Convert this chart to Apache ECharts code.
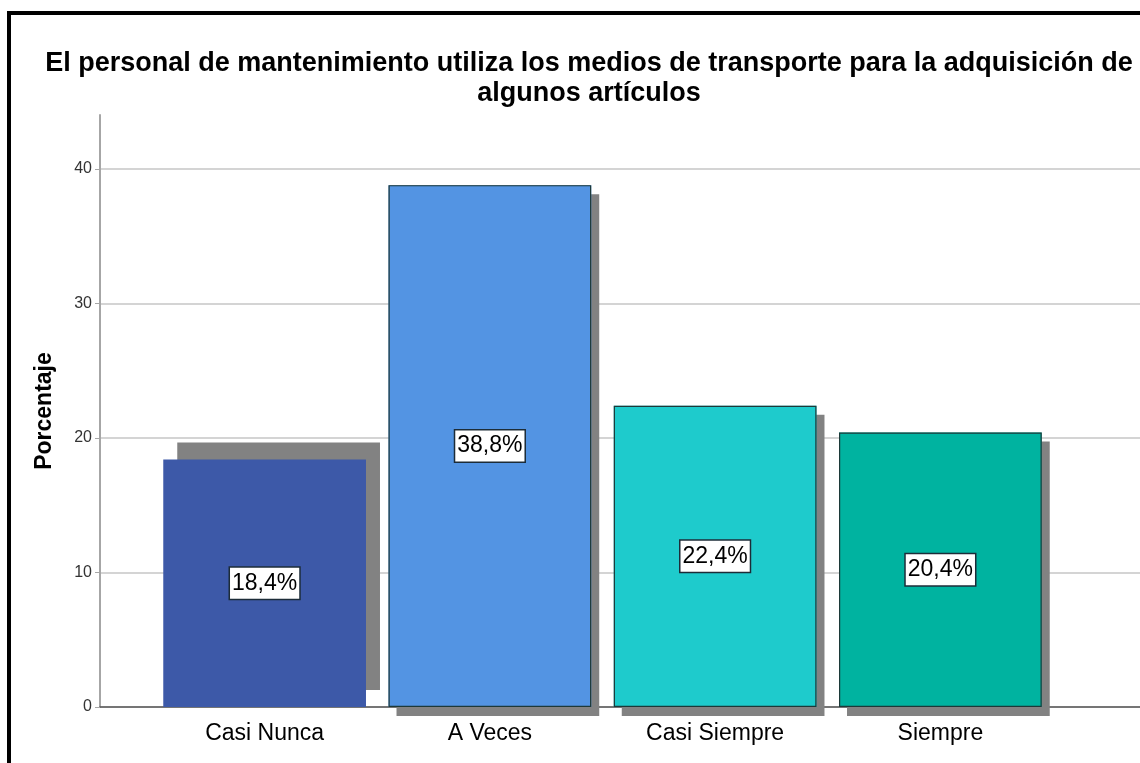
<!DOCTYPE html>
<html>
<head>
<meta charset="utf-8">
<script src="https://cdn.jsdelivr.net/npm/echarts@6/dist/echarts.min.js"></script>
<style>
  html, body { margin: 0; background: #fff; }
  #chart { width: 1140px; height: 763px; }
</style>
</head>
<body>
<div id="chart"></div>
<script>
const categories = ["Casi Nunca", "A Veces", "Casi Siempre", "Siempre"];
const percentages = [18.4, 38.8, 22.4, 20.4];
const barColors = ["#3d59a8", "#5394e3", "#1ecbcc", "#00b3a0"];
const titleText = "El personal de mantenimiento utiliza los medios de transporte para la adquisición de\nalgunos artículos";

const sans = "'Liberation Sans', Arial, sans-serif";

const chart = echarts.init(document.getElementById("chart"));

// fill + drop shadow; the first bar's shadow falls up-right, the others down-right
const barData = percentages.map((v, i) => ({
  value: v,
  itemStyle: {
    color: barColors[i],
    shadowColor: "#828282",
    shadowBlur: 0,
    shadowOffsetX: i === 0 ? 14 : 8,
    shadowOffsetY: i === 0 ? -17 : 9,
  },
}));

// outline drawn on top without shadow (first bar has none)
const outlineData = percentages.map((v, i) => ({
  value: v,
  itemStyle: {
    color: "transparent",
    borderColor: i === 0 ? "transparent" : "#1d3838",
    borderWidth: 1.2,
  },
}));

const option = {
  backgroundColor: "#fff",
  animation: false,
  title: {
    text: titleText,
    left: 584,
    top: 44,
    textAlign: "center",
    textStyle: {
      fontFamily: sans,
      fontSize: 27,
      fontWeight: "bold",
      color: "#000",
      lineHeight: 30,
    },
  },
  graphic: [
    { type: "rect", shape: { x: 7, y: 11, width: 1133, height: 4 }, style: { fill: "#000" } },
    { type: "rect", shape: { x: 7, y: 11, width: 4, height: 752 }, style: { fill: "#000" } },
  ],
  grid: [
    { left: 100, right: 0, top: 115, bottom: 56 },
    { left: 100, right: 0, top: 169, bottom: 56 },
    { left: 152, right: 87, top: 169, bottom: 56 },
  ],
  xAxis: [
    { gridIndex: 0, type: "category", data: [""], show: false },
    {
      gridIndex: 1,
      type: "category",
      data: [""],
      axisLine: { lineStyle: { color: "#555", width: 1.5 } },
      axisTick: { show: false },
      axisLabel: { show: false },
    },
    {
      gridIndex: 2,
      type: "category",
      data: categories,
      axisLine: { show: false },
      axisTick: { show: false },
      axisLabel: {
        margin: 15,
        fontFamily: sans,
        fontSize: 23,
        color: "#000",
      },
    },
  ],
  yAxis: [
    {
      gridIndex: 0,
      type: "value",
      min: 0,
      max: 44,
      name: "Porcentaje",
      nameLocation: "middle",
      nameGap: 44,
      nameTextStyle: { fontFamily: sans, fontSize: 23, fontWeight: "bold", color: "#000" },
      axisLine: { show: true, lineStyle: { color: "#a6a6a6", width: 2 } },
      axisTick: { show: false },
      axisLabel: { show: false },
      splitLine: { show: false },
    },
    {
      gridIndex: 1,
      type: "value",
      min: 0,
      max: 40,
      interval: 10,
      axisLine: { show: false },
      axisTick: { show: true, length: 5, lineStyle: { color: "#a6a6a6" } },
      axisLabel: { margin: 8, fontFamily: sans, fontSize: 16, color: "#333" },
      splitLine: { lineStyle: { color: "#c6c6c6", width: 1.5 } },
    },
    { gridIndex: 2, type: "value", min: 0, max: 40, show: false },
  ],
  series: [
    {
      type: "bar",
      xAxisIndex: 2,
      yAxisIndex: 2,
      barCategoryGap: "10%",
      data: barData,
    },
    {
      type: "bar",
      xAxisIndex: 2,
      yAxisIndex: 2,
      barGap: "-100%",
      barCategoryGap: "10%",
      data: outlineData,
      label: {
        show: true,
        position: "inside",
        formatter: (p) => p.value.toFixed(1).replace(".", ",") + "%",
        fontFamily: sans,
        fontSize: 23,
        color: "#000",
        backgroundColor: "#fff",
        borderColor: "#1c2c38",
        borderWidth: 1.5,
        padding: [5, 2, 3, 2],
      },
    },
  ],
};

chart.setOption(option);
</script>
</body>
</html>
